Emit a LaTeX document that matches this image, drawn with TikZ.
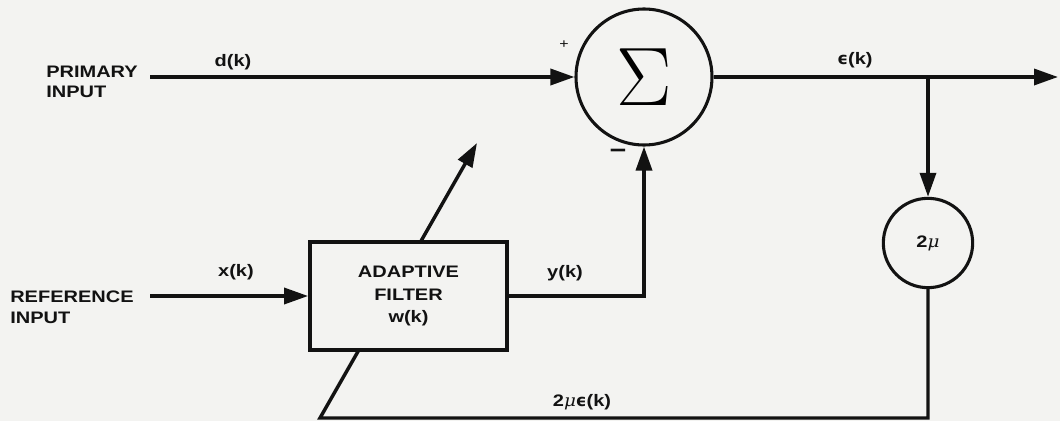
\documentclass[tikz,border=0pt]{standalone}
\usepackage{graphicx}
\usepackage{fontspec}
\setmainfont{Liberation Sans}[FakeStretch=1.2]
\newfontfamily\grkit{DejaVu Serif}[FakeStretch=1.1]
\newfontfamily\grkbf{DejaVu Sans}
\usetikzlibrary{arrows.meta}
\definecolor{paper}{RGB}{243,243,241}
\definecolor{ink}{RGB}{18,18,18}
\newcommand\lblfont{\fontsize{12.5}{16}\selectfont\bfseries}
% Greek letters set in fonts that carry them
\newcommand\mymu{{\grkit\itshape\mdseries μ}}
\newcommand\myeps{{\grkbf\bfseries ϵ}}

\begin{document}
\begin{tikzpicture}[x=0.75pt,y=-0.75pt,
  wire/.style={draw=ink,line width=2.6pt},
  flow/.style={wire,-{Triangle[length=18pt,width=12pt]}},
  lbl/.style={text=ink,font=\lblfont,inner sep=0pt},
  sumnode/.style={circle,draw=ink,line width=2.3pt,minimum size=102pt,inner sep=0pt},
  gainnode/.style={circle,draw=ink,line width=2.3pt,minimum size=67pt,inner sep=0pt,text=ink,font=\lblfont},
  filterbox/.style={rectangle,draw=ink,line width=2.6pt,fill=paper,minimum width=148pt,
    minimum height=81pt,align=center,text=ink,font=\fontsize{12.5}{17}\selectfont\bfseries}]

% page
\path[use as bounding box,fill=paper] (0,0) rectangle (1060,421);

% free ends of the signal lines
\coordinate (pin) at (150,77);
\coordinate (rin) at (150,296);
\coordinate (out) at (1058,77);
\coordinate (fb) at (320,418);
\coordinate (adj) at (477,143);

% summing junction and step-size gain
\node[sumnode] (sum) at (644,77) {\scalebox{3}{\huge$\Sigma$}};
\node[gainnode] (mu) at (928,243) {2\mymu};
\coordinate (tap) at (sum.east -| mu.north);

% weight-update path, passing behind the filter block
\draw[flow] (mu.south) |- (fb) -- (adj);

% adaptive filter block
\node[filterbox] (filt) at (408.5,296) {ADAPTIVE\\FILTER\\w(k)};

% input labels
\node[lbl,anchor=west,align=left,font=\fontsize{12.5}{15}\selectfont\bfseries] (prim) at (46,82) {PRIMARY\\INPUT};
\node[lbl,anchor=west,align=left,font=\fontsize{12.5}{16}\selectfont\bfseries] (ref) at (10,307) {REFERENCE\\INPUT};

% signal connections
\draw[flow] (pin) -- (sum.west);
\draw[flow] (rin) -- (filt.west);
\draw[flow] (filt.east) -| (sum.south);
\draw[flow] (sum.east) -- (out);
\draw[flow] (tap) -- (mu.north);

% signal names
\node[lbl] (dk) at (233,62) {d(k)};
\node[lbl] (xk) at (236,272) {x(k)};
\node[lbl] (yk) at (565,273) {y(k)};
\node[lbl] (ek) at (855,60) {\myeps(k)};
\node[lbl] (mek) at (582,402) {2\mymu\myeps(k)};
\node[text=ink,inner sep=0pt,font=\fontsize{10}{10}\selectfont] (plus) at (564,45) {+};
\node[text=ink,inner sep=0pt,font=\fontsize{18}{18}\selectfont\bfseries] (minus) at (618,154) {−};
\end{tikzpicture}
\end{document}
